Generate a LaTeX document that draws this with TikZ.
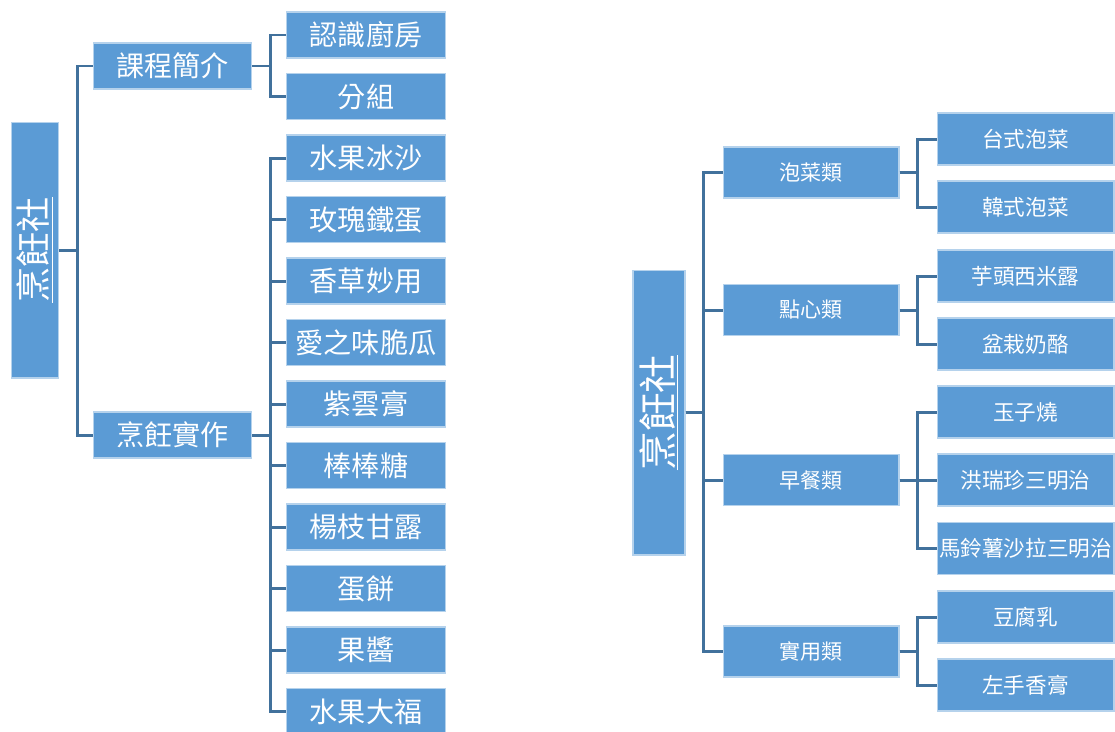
\documentclass[tikz,border=0pt]{standalone}
\usepackage{graphicx}
\usepackage{fontspec}
\setmainfont{Noto Sans CJK TC}
\usepackage{tikz}
\definecolor{boxblue}{RGB}{91,155,213}
\definecolor{linkblue}{RGB}{65,113,156}
\tikzset{
	box/.style={rectangle,fill=boxblue,draw=white!55!boxblue,line width=.6pt,text=white,inner sep=1pt},
	conn/.style={draw=linkblue,line width=1.7pt}
}
\newcommand{\branch}[2]{\draw[conn] (#1.east) -- ++(18,0) |- (#2.west);}

\begin{document}
\begin{tikzpicture}[x=0.02cm,y=-0.02cm]
			\useasboundingbox (0,0) rectangle (1115,731);
			% left tree
			\tikzset{lvl/.style={box,minimum width=3.17cm,minimum height=.92cm,font=\fontsize{16}{16}\selectfont}}
			\node[box,minimum width=.94cm,minimum height=5.12cm,font=\fontsize{20}{20}\selectfont](club) at (35,250) {\rotatebox{90}{\underline{烹飪社}}};
			\node[lvl](intro) at (172.5,66) {課程簡介};
			\node[lvl](cook) at (172.5,435) {烹飪實作};
			\node[lvl](kitchen) at (366,35) {認識廚房};
			\node[lvl](group) at (366,96.5) {分組};
			\node[lvl](smoothie) at (366,158) {水果冰沙};
			\node[lvl](egg) at (366,219.5) {玫瑰鐵蛋};
			\node[lvl](vanilla) at (366,281) {香草妙用};
			\node[lvl](cucumber) at (366,342.5) {愛之味脆瓜};
			\node[lvl](taro) at (366,404) {紫雲膏};
			\node[lvl](candy) at (366,465.5) {棒棒糖};
			\node[lvl](mango) at (366,527) {楊枝甘露};
			\node[lvl](omelet) at (366,588.5) {蛋餅};
			\node[lvl](jam) at (366,650) {果醬};
			\node[lvl](daifuku) at (366,711.5) {水果大福};
			
			\branch{club}{intro}
			\branch{club}{cook}
			\branch{intro}{kitchen}
			\branch{intro}{group}
			\foreach \n in {smoothie,egg,vanilla,cucumber,taro,candy,mango,omelet,jam,daifuku}
				{\branch{cook}{\n}}
			
			% right tree
			\tikzset{cat/.style={box,minimum width=3.52cm,minimum height=1.02cm,font=\fontsize{12}{12}\selectfont},
				dish/.style={box,minimum width=3.54cm,minimum height=1.04cm,font=\fontsize{12.3}{12.3}\selectfont}}
			\node[box,minimum width=1.04cm,minimum height=5.7cm,font=\fontsize{22}{22}\selectfont](club2) at (659,412.5) {\rotatebox{90}{\underline{烹飪社}}};
			\node[cat](kimchi) at (811,172.5) {泡菜類};
			\node[cat](dessert) at (811,310) {點心類};
			\node[cat](breakfast) at (811,480) {早餐類};
			\node[cat](useful) at (811,651.5) {實用類};
			\node[dish](twkimchi) at (1025.5,139) {台式泡菜};
			\node[dish](krkimchi) at (1025.5,207) {韓式泡菜};
			\node[dish](sago) at (1025.5,276) {芋頭西米露};
			\node[dish](pudding) at (1025.5,344) {盆栽奶酪};
			\node[dish](tamago) at (1025.5,412) {玉子燒};
			\node[dish](hung) at (1025.5,480) {洪瑞珍三明治};
			\node[dish](potato) at (1025.5,548.5) {馬鈴薯沙拉三明治};
			\node[dish](tofu) at (1025.5,617) {豆腐乳};
			\node[dish](balm) at (1025.5,685) {左手香膏};
			
			\foreach \n in {kimchi,dessert,breakfast,useful}
				{\branch{club2}{\n}}
			\branch{kimchi}{twkimchi}
			\branch{kimchi}{krkimchi}
			\branch{dessert}{sago}
			\branch{dessert}{pudding}
			\branch{breakfast}{tamago}
			\branch{breakfast}{hung}
			\branch{breakfast}{potato}
			\branch{useful}{tofu}
			\branch{useful}{balm}
		\end{tikzpicture}
\end{document}
